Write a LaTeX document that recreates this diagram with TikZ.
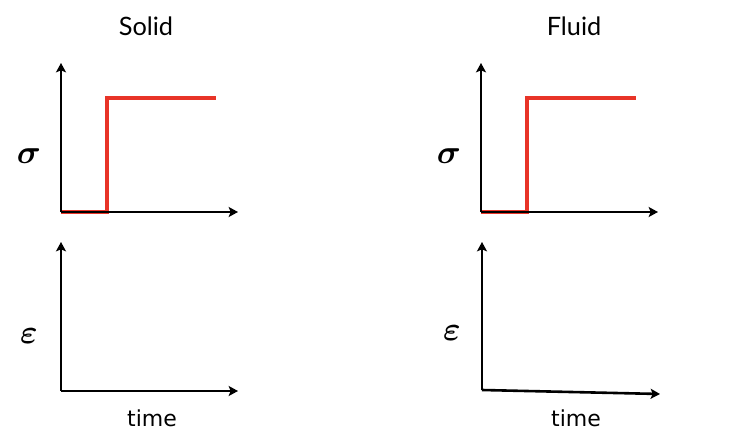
\documentclass[tikz,border=0pt]{standalone}
\usepackage{fix-cm}
\usepackage{bm}
\usepackage{fontspec}
\setmainfont{Lato}
\newfontfamily\timefont{DejaVu Sans}
\usetikzlibrary{arrows.meta}
\begin{document}
\begin{tikzpicture}[x=0.75pt,y=-0.75pt,
  axis/.style={line width=2.6pt*0.75,-{Stealth[length=7pt,width=7.5pt,inset=1.5pt]}},
  redline/.style={draw={rgb,255:red,232;green,52;blue,40},line width=4pt*0.75,line join=miter},
  title/.style={font=\fontsize{19}{22}\selectfont,inner sep=0pt},
  sym/.style={font=\fontsize{25}{28}\selectfont,inner sep=0pt},
  timelbl/.style={font=\timefont\fontsize{16.5}{20}\selectfont,inner sep=0pt}]
\useasboundingbox (0,0) rectangle (751,439);
% titles
\node[title] (solid) at (146,26) {Solid};
\node[title] (fluid) at (574,26) {Fluid};
% coordinates
\coordinate (o1) at (61,212); \coordinate (y1) at (61,63); \coordinate (x1) at (238,212);
\coordinate (o2) at (61,391); \coordinate (y2) at (61,242); \coordinate (x2) at (238,391);
\coordinate (o3) at (481,212); \coordinate (y3) at (481,63); \coordinate (x3) at (658,212);
\coordinate (o4) at (482,390); \coordinate (y4) at (482,242); \coordinate (x4) at (660,394);
% red step curves
\coordinate (a1) at (107,212); \coordinate (b1) at (107,98); \coordinate (c1) at (216,98);
\coordinate (a3) at (527,212); \coordinate (b3) at (527,98); \coordinate (c3) at (636,98);
\draw[redline] (o1) -- (a1) -- (b1) -- (c1);
\draw[redline] (o3) -- (a3) -- (b3) -- (c3);
% axes
\draw[axis] (o1) -- (y1);
\draw[axis] (o1) -- (x1);
\draw[axis] (o2) -- (y2);
\draw[axis] (o2) -- (x2);
\draw[axis] (o3) -- (y3);
\draw[axis] (o3) -- (x3);
\draw[axis] (o4) -- (y4);
\draw[axis] (o4) -- (x4);
% labels
\node[sym] (s1) at (29,156) {$\bm{\sigma}$};
\node[sym] (s3) at (449,156) {$\bm{\sigma}$};
\node[sym] (e2) at (29,336) {$\bm{\varepsilon}$};
\node[sym] (e4) at (452,333) {$\bm{\varepsilon}$};
\node[timelbl] (t2) at (152,418) {time};
\node[timelbl] (t4) at (576,418) {time};
\end{tikzpicture}
\end{document}
